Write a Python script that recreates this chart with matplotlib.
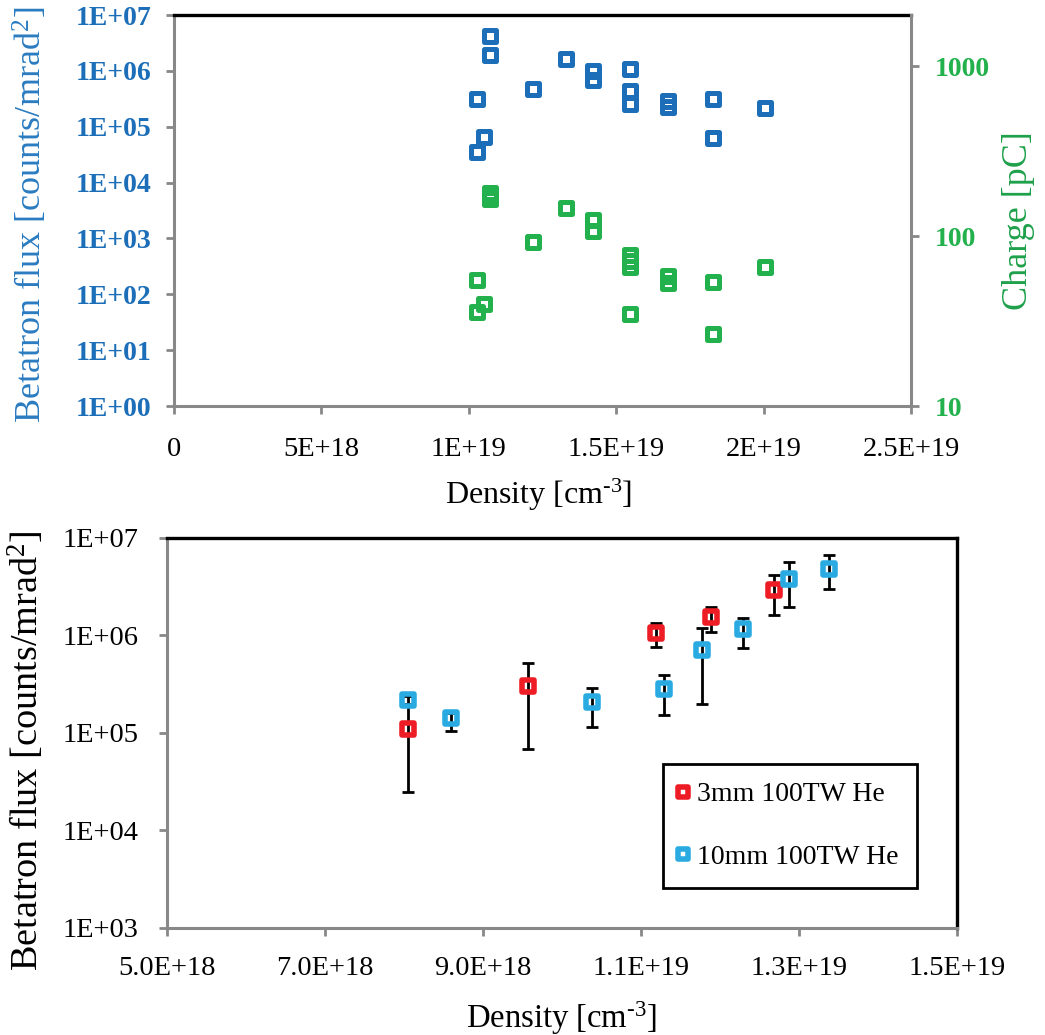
import matplotlib.pyplot as plt
from matplotlib.markers import MarkerStyle
import numpy as np

plt.rcParams['font.family'] = 'Liberation Serif'
plt.rcParams['mathtext.fontset'] = 'custom'
plt.rcParams['mathtext.rm'] = 'Liberation Serif'
plt.rcParams['mathtext.it'] = 'Liberation Serif:italic'
plt.rcParams['mathtext.bf'] = 'Liberation Serif:bold'

# ---- top panel: flux and charge vs density ----
flux_density = np.array([10.27, 10.27, 10.50, 10.72, 10.72, 12.19, 13.30, 14.21, 14.21,
                         15.48, 15.48, 15.48, 16.74, 16.74, 18.29, 18.29, 20.06]) * 1e18
flux = [3.2e5, 3.5e4, 6.5e4, 4.2e6, 1.9e6, 4.7e5, 1.6e6, 1.0e6, 6.9e5,
        1.07e6, 4.4e5, 2.6e5, 2.9e5, 2.3e5, 3.2e5, 6.2e4, 2.2e5]

charge_density = np.array([10.72, 10.72, 10.72, 13.30, 14.21, 14.21, 12.19, 15.48, 15.48,
                           15.48, 10.27, 16.74, 16.74, 18.29, 20.06, 10.50, 10.27,
                           15.48, 18.29]) * 1e18
charge = [180, 172, 165, 147, 125, 107, 92.5, 77, 71,
          65.5, 55, 58, 53, 54, 65.5, 39.6, 35.9,
          34.8, 26.5]

top_xticks = [0, 5e18, 1e19, 1.5e19, 2e19, 2.5e19]
top_xlabels = ['0', '5E+18', '1E+19', '1.5E+19', '2E+19', '2.5E+19']
top_yticks = [1e0, 1e1, 1e2, 1e3, 1e4, 1e5, 1e6, 1e7]
top_ylabels = ['1E+00', '1E+01', '1E+02', '1E+03', '1E+04', '1E+05', '1E+06', '1E+07']
charge_ticks = [10, 100, 1000]
charge_labels = ['10', '100', '1000']

# ---- bottom panel: flux vs density for two targets ----
d3 = np.array([8.05, 9.57, 11.19, 11.89, 12.69]) * 1e18
f3 = np.array([1.1e5, 3.05e5, 1.06e6, 1.54e6, 2.94e6])
f3_lo = np.array([2.5e4, 6.8e4, 7.7e5, 1.08e6, 1.64e6])
f3_hi = np.array([2.0e5, 5.2e5, 1.34e6, 1.95e6, 4.2e6])

d10 = np.array([8.05, 8.60, 10.38, 11.29, 11.78, 12.29, 12.88, 13.38]) * 1e18
f10 = np.array([2.19e5, 1.41e5, 2.06e5, 2.8e5, 7.1e5, 1.17e6, 3.81e6, 4.83e6])
f10_lo = np.array([1.95e5, 1.05e5, 1.14e5, 1.53e5, 1.98e5, 7.4e5, 1.95e6, 2.99e6])
f10_hi = np.array([2.4e5, 1.6e5, 2.9e5, 3.9e5, 1.19e6, 1.5e6, 5.66e6, 6.7e6])

bot_xticks = [5e18, 7e18, 9e18, 1.1e19, 1.3e19, 1.5e19]
bot_xlabels = ['5.0E+18', '7.0E+18', '9.0E+18', '1.1E+19', '1.3E+19', '1.5E+19']
bot_yticks = [1e3, 1e4, 1e5, 1e6, 1e7]
bot_ylabels = ['1E+03', '1E+04', '1E+05', '1E+06', '1E+07']

BLUE = '#1B6EB7'
BLUE_LABEL = '#2A7BC0'
GREEN = '#22B14C'
GREEN_LABEL = '#1EA04A'
RED = '#EE1C25'
SKY = '#29ABE2'
GRAY = '#888888'

sq = MarkerStyle('s', joinstyle='round')
xlabel_text = r'Density [cm$^{\text{-3}}$]'

fig = plt.figure(figsize=(10.45, 10.35), dpi=100)

# top panel
ax = fig.add_axes([0.1665, 0.6077, 0.7053, 0.3778])
axc = ax.twinx()

ax.plot(flux_density, flux, linestyle='none', marker=sq, markersize=8.8,
        markerfacecolor='none', markeredgecolor=BLUE, markeredgewidth=3.6)
axc.plot(charge_density, charge, linestyle='none', marker=sq, markersize=8.8,
         markerfacecolor='none', markeredgecolor=GREEN, markeredgewidth=3.6)

ax.set_yscale('log')
axc.set_yscale('log')
ax.set_xlim(0, 2.5e19)
ax.set_ylim(1, 1e7)
axc.set_ylim(10, 2000)
ax.minorticks_off()
axc.minorticks_off()

ax.set_xticks(top_xticks, top_xlabels, fontsize=20.5)
ax.set_yticks(top_yticks, top_ylabels, fontsize=20, fontweight='bold', color=BLUE)
axc.set_yticks(charge_ticks, charge_labels, fontsize=20, fontweight='bold', color=GREEN)

ax.tick_params(axis='x', direction='out', length=6, width=2, color=GRAY, pad=16.5)
ax.tick_params(axis='y', direction='out', length=6, width=2, color=GRAY, pad=10)
axc.tick_params(axis='y', direction='out', length=6, width=2, color=GRAY, pad=11)

for s in ['left', 'bottom']:
    ax.spines[s].set_color(GRAY)
    ax.spines[s].set_linewidth(2.2)
ax.spines['right'].set_visible(False)
ax.spines['top'].set_color('black')
ax.spines['top'].set_linewidth(2.4)
for s in ['left', 'bottom', 'top']:
    axc.spines[s].set_visible(False)
axc.spines['right'].set_color(GRAY)
axc.spines['right'].set_linewidth(2.2)

ax.set_ylabel('Betatron flux [counts/mrad$^2$]', fontsize=26, color=BLUE_LABEL)
ax.yaxis.set_label_coords(-0.168, 0.488)
axc.set_ylabel('Charge [pC]', fontsize=26, color=GREEN_LABEL)
axc.yaxis.set_label_coords(1.1235, 0.473)
ax.set_xlabel(xlabel_text, fontsize=23)
ax.xaxis.set_label_coords(0.495, -0.18)
ax.xaxis.label.set_verticalalignment('top')

# bottom panel
bx = fig.add_axes([0.1595, 0.1034, 0.7560, 0.3768])

bx.errorbar(d3, f3, yerr=[f3 - f3_lo, f3_hi - f3], fmt='none', ecolor='black',
            elinewidth=2, capsize=4.3, capthick=2, zorder=2)
bx.plot(d3, f3, linestyle='none', marker=sq, markersize=8.8, markerfacecolor='none',
        markeredgecolor=RED, markeredgewidth=4, zorder=3, label='3mm 100TW He')
bx.errorbar(d10, f10, yerr=[f10 - f10_lo, f10_hi - f10], fmt='none', ecolor='black',
            elinewidth=2, capsize=4.3, capthick=2, zorder=4)
bx.plot(d10, f10, linestyle='none', marker=sq, markersize=8.8, markerfacecolor='none',
        markeredgecolor=SKY, markeredgewidth=4, zorder=5, label='10mm 100TW He')

bx.set_yscale('log')
bx.set_xlim(5e18, 1.5e19)
bx.set_ylim(1e3, 1e7)
bx.minorticks_off()
bx.set_xticks(bot_xticks, bot_xlabels, fontsize=20.5)
bx.set_yticks(bot_yticks, bot_ylabels, fontsize=20.5)
bx.tick_params(axis='x', direction='out', length=6, width=2, color=GRAY, pad=14)
bx.tick_params(axis='y', direction='out', length=6, width=2, color=GRAY, pad=14)

for s in ['left', 'bottom']:
    bx.spines[s].set_color(GRAY)
    bx.spines[s].set_linewidth(2.2)
for s in ['top', 'right']:
    bx.spines[s].set_color('black')
    bx.spines[s].set_linewidth(2.4)

bx.set_ylabel('Betatron flux [counts/mrad$^2$]', fontsize=27.5)
bx.yaxis.set_label_coords(-0.1515, 0.454)
bx.set_xlabel(xlabel_text, fontsize=23.5)
bx.xaxis.set_label_coords(0.5, -0.183)
bx.xaxis.label.set_verticalalignment('top')

leg = bx.legend(loc='upper left', bbox_to_anchor=(0.628, 0.4205), borderaxespad=0,
                fontsize=20, frameon=True, fancybox=False, edgecolor='black',
                borderpad=0.65, handlelength=0.17, handletextpad=0.42,
                labelspacing=1.32, markerscale=0.85)
leg.get_frame().set_linewidth(2)
leg.get_frame().set_alpha(1)

fig.savefig('out.png', dpi=100)
